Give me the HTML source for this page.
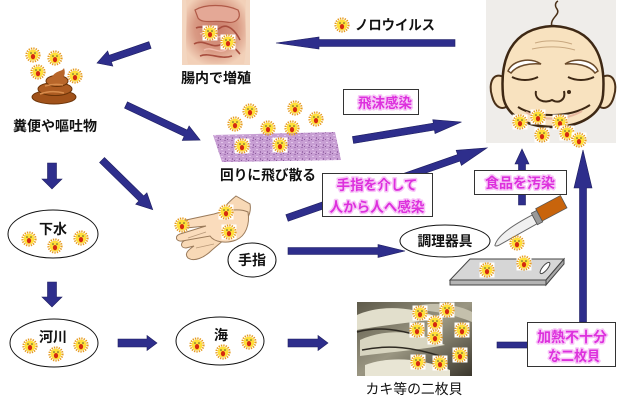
<!DOCTYPE html>
<html><head><meta charset="utf-8">
<style>
html,body{margin:0;padding:0;background:#fff;}
svg{display:block;}
text{font-family:"Liberation Sans","Noto Sans CJK JP",sans-serif;}
.lb{font-size:14px;font-weight:bold;fill:#111;}
.ln{font-size:14px;fill:#111;}
.pk{font-size:14px;font-weight:bold;fill:#dd30dd;stroke:#f7c6f7;stroke-width:3;paint-order:stroke;stroke-linejoin:round;}
</style></head>
<body>
<svg width="622" height="403" viewBox="0 0 622 403" xmlns="http://www.w3.org/2000/svg">
<defs>
  <symbol id="v" viewBox="-8 -8 16 16" overflow="visible">
    <circle r="6.6" fill="none" stroke="#e69a1e" stroke-width="2" stroke-dasharray="1.3 1.1"/>
    <circle r="5.4" fill="#ffe03a"/>
    <circle cx="-2" cy="-2" r="0.8" fill="#553"/>
    <circle cx="2" cy="-2" r="0.8" fill="#553"/>
    <ellipse cx="0" cy="1.6" rx="2.1" ry="2.6" fill="#d42a10"/>
  </symbol>
  <symbol id="vb" viewBox="-8 -8 16 16" overflow="visible">
    <rect x="-7.5" y="-7.5" width="15" height="15" fill="#fff"/>
    <circle r="6.6" fill="none" stroke="#e69a1e" stroke-width="2" stroke-dasharray="1.3 1.1"/>
    <circle r="5.4" fill="#ffe03a"/>
    <circle cx="-2" cy="-2" r="0.8" fill="#553"/>
    <circle cx="2" cy="-2" r="0.8" fill="#553"/>
    <ellipse cx="0" cy="1.6" rx="2.1" ry="2.6" fill="#d42a10"/>
  </symbol>
  <pattern id="tex" width="7" height="7" patternUnits="userSpaceOnUse">
    <rect width="7" height="7" fill="#c79ed3"/>
    <rect x="0" y="0" width="2" height="1" fill="#a676b6"/>
    <rect x="4" y="2" width="2" height="1" fill="#e2c4ea"/>
    <rect x="1" y="4" width="1" height="2" fill="#9c6cac"/>
    <rect x="5" y="5" width="2" height="1" fill="#dcb8e4"/>
    <rect x="3" y="6" width="1" height="1" fill="#8e5e9e"/>
  </pattern>
  <linearGradient id="oy" x1="0" y1="0" x2="1" y2="1">
    <stop offset="0" stop-color="#5e5a4a"/>
    <stop offset="0.5" stop-color="#9a9682"/>
    <stop offset="1" stop-color="#3a362c"/>
  </linearGradient>
  <radialGradient id="gut" cx="0.5" cy="0.45" r="0.6">
    <stop offset="0" stop-color="#c97a68"/>
    <stop offset="0.6" stop-color="#d99a84"/>
    <stop offset="1" stop-color="#f2d0b8"/>
  </radialGradient>
</defs>

<!-- ========== Intestine image ========== -->
<rect x="182" y="0" width="68" height="65" fill="#f3d6c0"/>
<path d="M186,0 L246,0 C244,20 248,45 244,64 L188,64 C184,45 188,20 186,0 Z" fill="url(#gut)"/>
<path d="M195,10 C205,4 225,4 238,10 C242,18 236,24 226,22 C214,20 202,24 198,18 Z" fill="#e4a896" stroke="#b05a48" stroke-width="1.2"/>
<path d="M196,28 C204,24 212,34 220,28 C228,22 236,32 240,40 M194,44 C204,38 212,50 222,44 C230,40 236,50 240,54 M200,56 C210,52 220,60 232,56" fill="none" stroke="#a84e3e" stroke-width="1.6"/>
<path d="M200,34 C208,30 214,40 222,36 M204,50 C212,46 218,54 226,50" fill="none" stroke="#f1bcae" stroke-width="1.4"/>
<use href="#vb" x="202" y="25" width="16" height="16"/>
<use href="#vb" x="220" y="34" width="16" height="16"/>
<text class="lb" x="216" y="83" text-anchor="middle" textLength="70" lengthAdjust="spacingAndGlyphs">腸内で増殖</text>

<!-- ========== Feces ========== -->
<use href="#v" x="25" y="47" width="16" height="16"/>
<use href="#v" x="47" y="50" width="16" height="16"/>
<use href="#v" x="30" y="64" width="16" height="16"/>
<use href="#v" x="67" y="68" width="16" height="16"/>
<ellipse cx="54" cy="97" rx="22" ry="7" fill="#a1521a" stroke="#6c3408" stroke-width="1"/>
<ellipse cx="55" cy="89" rx="17" ry="6.5" fill="#ad5c22" stroke="#6c3408" stroke-width="1"/>
<ellipse cx="57" cy="81" rx="11" ry="5.5" fill="#b8662a" stroke="#6c3408" stroke-width="1"/>
<path d="M52,77 C56,70 62,72 64,68 C66,74 64,78 60,80 Z" fill="#b8662a"/>
<path d="M40,94 C48,91 56,91 64,93 M45,86 C52,84 58,84 63,85" fill="none" stroke="#d88c4c" stroke-width="1.5"/>
<text class="lb" x="55" y="131" text-anchor="middle" textLength="84" lengthAdjust="spacingAndGlyphs">糞便や嘔吐物</text>

<!-- ========== Norovirus label ========== -->
<use href="#v" x="334" y="17" width="16" height="16"/>
<text class="lb" x="355" y="30" textLength="80" lengthAdjust="spacingAndGlyphs">ノロウイルス</text>

<!-- ========== Face ========== -->
<rect x="486" y="0" width="130" height="143" fill="#efedea"/>
<path d="M552,27 C549,18 561,15 557,9 C554,5 556,2 558,1" fill="none" stroke="#4a3018" stroke-width="1.5"/>
<path d="M505,78 C493,70 488,84 492,96 C495,108 503,111 508,105" fill="#f8e2bf" stroke="#4a3018" stroke-width="2"/>
<path d="M601,78 C613,70 618,84 614,96 C611,108 603,111 598,105" fill="#f8e2bf" stroke="#4a3018" stroke-width="2"/>
<path d="M503,95 C500,60 510,28 553,26 C596,28 606,60 603,95 C601,115 580,127 553,127 C526,127 505,115 503,95 Z" fill="#f8e2bf" stroke="#3e2814" stroke-width="2.5"/>
<path d="M535,43 C545,40 560,40 572,44 M532,49 C545,46 562,46 575,50" fill="none" stroke="#c8a880" stroke-width="1"/>
<path d="M508,71 C513,60 530,57 541,64 C530,63 517,65 511,73 Z" fill="#fff" stroke="#6a4a2a" stroke-width="1.5"/>
<path d="M598,71 C593,60 576,57 565,64 C576,63 589,65 595,73 Z" fill="#fff" stroke="#6a4a2a" stroke-width="1.5"/>
<path d="M512,77 C520,81 530,81 538,77 M568,77 C576,81 586,81 594,77" fill="none" stroke="#3e2814" stroke-width="2"/>
<path d="M536,91 C534,100 545,104 552,100 C559,104 566,100 564,91" fill="none" stroke="#3e2814" stroke-width="2"/>
<circle cx="569" cy="92" r="2" fill="#3e2814"/>
<path d="M518,107 C535,118 570,118 590,105" fill="none" stroke="#3e2814" stroke-width="2"/>
<path d="M526,112 C540,121 565,121 582,111" fill="none" stroke="#e8b8a0" stroke-width="2"/>
<use href="#vb" x="512" y="114" width="16" height="16"/>
<use href="#vb" x="530" y="109" width="16" height="16"/>
<use href="#vb" x="552" y="114" width="16" height="16"/>
<use href="#vb" x="534" y="127" width="16" height="16"/>
<use href="#vb" x="559" y="125" width="16" height="16"/>
<use href="#vb" x="571" y="132" width="16" height="16"/>

<!-- ========== Splash surface ========== -->
<polygon points="213,135 335,132 341,160 222,162" fill="url(#tex)"/>
<use href="#v" x="242" y="103" width="16" height="16"/>
<use href="#v" x="227" y="116" width="16" height="16"/>
<use href="#v" x="260" y="120" width="16" height="16"/>
<use href="#v" x="287" y="100" width="16" height="16"/>
<use href="#v" x="308" y="111" width="16" height="16"/>
<use href="#v" x="284" y="120" width="16" height="16"/>
<use href="#vb" x="234" y="138" width="16" height="16"/>
<use href="#vb" x="272" y="137" width="16" height="16"/>
<text class="lb" x="268" y="180" text-anchor="middle" textLength="96" lengthAdjust="spacingAndGlyphs">回りに飛び散る</text>

<!-- ========== Hands ========== -->
<path d="M236,196 L250,204 C252,214 246,222 238,228 L212,250 C204,258 194,262 188,258 C184,254 188,250 194,246 L186,248 C180,248 180,242 186,240 L210,228 C216,216 226,204 236,196 Z" fill="#f8d9b6" stroke="#9a7a5a" stroke-width="1"/>
<path d="M248,212 C240,208 226,210 214,214 L186,220 C180,222 180,228 186,228 L206,226 L180,234 C174,236 176,242 182,241 L210,236 C214,242 226,244 236,240 C246,236 250,224 248,212 Z" fill="#fadcbc" stroke="#9a7a5a" stroke-width="1"/>
<path d="M196,248 L214,244 M188,238 L206,232" fill="none" stroke="#b89878" stroke-width="0.8"/>
<use href="#v" x="174" y="217" width="16" height="16"/>
<use href="#vb" x="218" y="204" width="16" height="16"/>
<use href="#vb" x="221" y="224" width="16" height="16"/>

<!-- Knife -->
<g transform="translate(495,245) rotate(-28)">
  <path d="M0,0 C8,-8 28,-9 47,-9 L47,1 L4,2 C1,2 -1,1 0,0 Z" fill="#f0f0f0" stroke="#666" stroke-width="1"/>
  <rect x="47" y="-11" width="6" height="13" fill="#999" stroke="#555" stroke-width="0.8"/>
  <rect x="53" y="-13" width="28" height="14" fill="#c8640c" stroke="#555" stroke-width="0.8"/>
</g>
<use href="#v" x="509" y="235" width="16" height="16"/>

<!-- Board -->
<polygon points="470,259 564,259 546,280 450,280" fill="#d6d6d6" stroke="#444" stroke-width="1"/>
<polygon points="450,280 546,280 546,285 450,285" fill="#b4b4b4" stroke="#444" stroke-width="1"/>
<polygon points="546,280 564,259 564,264 546,285" fill="#a8a8a8" stroke="#444" stroke-width="1"/>
<ellipse cx="545" cy="268" rx="7" ry="2.5" transform="rotate(-50 545 268)" fill="#fff" stroke="#444" stroke-width="1"/>
<use href="#vb" x="479" y="262" width="16" height="16"/>
<use href="#vb" x="516" y="255" width="16" height="16"/>

<!-- ========== Oysters ========== -->
<rect x="357" y="302" width="115" height="74" fill="url(#oy)"/>
<path d="M357,315 C380,305 410,306 440,318 C420,322 390,324 357,330 Z" fill="#e2dfcc"/>
<path d="M360,340 C385,328 420,330 445,345 C420,350 390,352 360,356 Z" fill="#d8d5c0"/>
<path d="M365,365 C390,356 420,358 450,370 L450,376 L365,376 Z" fill="#e8e5d4"/>
<path d="M420,305 C440,302 462,306 472,312 L472,322 C455,315 440,312 420,310 Z" fill="#c4c0ac"/>
<path d="M357,332 C380,326 400,330 420,336 M362,350 C390,344 415,348 440,356" fill="none" stroke="#2e2a22" stroke-width="1.5"/>
<use href="#vb" x="412" y="305" width="16" height="16"/>
<use href="#vb" x="439" y="302" width="16" height="16"/>
<use href="#vb" x="427" y="315" width="16" height="16"/>
<use href="#vb" x="409" y="322" width="16" height="16"/>
<use href="#vb" x="427" y="329" width="16" height="16"/>
<use href="#vb" x="454" y="322" width="16" height="16"/>
<use href="#vb" x="410" y="354" width="16" height="16"/>
<use href="#vb" x="432" y="355" width="16" height="16"/>
<use href="#vb" x="452" y="347" width="16" height="16"/>
<text class="ln" x="414" y="394" text-anchor="middle" textLength="97" lengthAdjust="spacingAndGlyphs">カキ等の二枚貝</text>

<!-- ========== Arrows ========== -->
<g fill="#2e2e8c" stroke="#1e1e60" stroke-width="0.6">
  <polygon transform="translate(150,45) rotate(161.2)" points="0,-3.5 42,-3.5 42,-8 56,0 42,8 42,3.5 0,3.5"/>
  <polygon transform="translate(126,105) rotate(25.3)" points="0,-3.5 66,-3.5 66,-8 82,0 66,8 66,3.5 0,3.5"/>
  <polygon transform="translate(102,160) rotate(44.4)" points="0,-3.5 55,-3.5 55,-8 71,0 55,8 55,3.5 0,3.5"/>
  <polygon transform="translate(52,163) rotate(90)" points="0,-4.5 16,-4.5 16,-10 26,0 16,10 16,4.5 0,4.5"/>
  <polygon transform="translate(52,282) rotate(90)" points="0,-4.5 15,-4.5 15,-10 25,0 15,10 15,4.5 0,4.5"/>
  <polygon transform="translate(118,343)" points="0,-4 29,-4 29,-7.5 39,0 29,7.5 29,4 0,4"/>
  <polygon transform="translate(288,343)" points="0,-4 30,-4 30,-7.5 40,0 30,7.5 30,4 0,4"/>
  <polygon transform="translate(288,251)" points="0,-3.5 90,-3.5 90,-6.5 117,0 90,6.5 90,3.5 0,3.5"/>
  <polygon transform="translate(455,43) rotate(180)" points="0,-3.5 136,-3.5 136,-6 179,0 136,6 136,3.5 0,3.5"/>
  <rect x="497" y="342" width="31" height="6"/>
  <polygon transform="translate(583,322) rotate(-90)" points="0,-3.5 134,-3.5 134,-9 172,0 134,9 134,3.5 0,3.5"/>
  <polygon transform="translate(522,205) rotate(-90)" points="0,-3.5 41,-3.5 41,-7 56,0 41,7 41,3.5 0,3.5"/>
  <polygon transform="translate(353,140) rotate(-9.4)" points="0,-3.5 82,-3.5 82,-7 110,0 82,7 82,3.5 0,3.5"/>
  <polygon transform="translate(287,218) rotate(-19.3)" points="0,-3.5 182,-3.5 182,-8 212,0 182,8 182,3.5 0,3.5"/>
</g>

<!-- ========== Boxes & ellipses (on top of arrows) ========== -->
<rect x="343.5" y="89.5" width="75" height="25" fill="#fff" stroke="#333" stroke-width="1"/>
<text class="pk" x="385" y="108" text-anchor="middle" textLength="54" lengthAdjust="spacingAndGlyphs">飛沫感染</text>

<rect x="322.5" y="173.5" width="110" height="43" fill="#fff" stroke="#333" stroke-width="1"/>
<text class="pk" x="377" y="190" text-anchor="middle" textLength="81" lengthAdjust="spacingAndGlyphs">手指を介して</text>
<text class="pk" x="377" y="212" text-anchor="middle" textLength="95" lengthAdjust="spacingAndGlyphs">人から人へ感染</text>

<rect x="474.5" y="170.5" width="92" height="24" fill="#fff" stroke="#333" stroke-width="1"/>
<text class="pk" x="520" y="188" text-anchor="middle" textLength="70" lengthAdjust="spacingAndGlyphs">食品を汚染</text>

<rect x="527.5" y="322.5" width="88" height="44" fill="#fff" stroke="#333" stroke-width="1"/>
<text class="pk" x="572" y="342" text-anchor="middle" textLength="70" lengthAdjust="spacingAndGlyphs">加熱不十分</text>
<text class="pk" x="574" y="361" text-anchor="middle" textLength="52" lengthAdjust="spacingAndGlyphs">な二枚貝</text>

<ellipse cx="445" cy="241" rx="45" ry="16" fill="#fff" stroke="#111" stroke-width="1"/>
<text class="lb" x="445" y="246" text-anchor="middle" textLength="55" lengthAdjust="spacingAndGlyphs">調理器具</text>

<ellipse cx="252" cy="260" rx="24" ry="17" fill="#fff" stroke="#111" stroke-width="1"/>
<text class="lb" x="252" y="265" text-anchor="middle">手指</text>

<ellipse cx="53" cy="234" rx="45" ry="24" fill="#fff" stroke="#111" stroke-width="1"/>
<text class="lb" x="53" y="234" text-anchor="middle">下水</text>
<use href="#v" x="21" y="231" width="16" height="16"/>
<use href="#v" x="47" y="238" width="16" height="16"/>
<use href="#v" x="73" y="230" width="16" height="16"/>

<ellipse cx="54" cy="343" rx="44" ry="24" fill="#fff" stroke="#111" stroke-width="1"/>
<text class="lb" x="53" y="342" text-anchor="middle">河川</text>
<use href="#v" x="22" y="338" width="16" height="16"/>
<use href="#v" x="48" y="346" width="16" height="16"/>
<use href="#v" x="73" y="337" width="16" height="16"/>

<ellipse cx="220" cy="341" rx="44" ry="24" fill="#fff" stroke="#111" stroke-width="1"/>
<text class="lb" x="221" y="340" text-anchor="middle">海</text>
<use href="#v" x="189" y="337" width="16" height="16"/>
<use href="#v" x="215" y="344" width="16" height="16"/>
<use href="#v" x="241" y="334" width="16" height="16"/>
</svg>
</body></html>
